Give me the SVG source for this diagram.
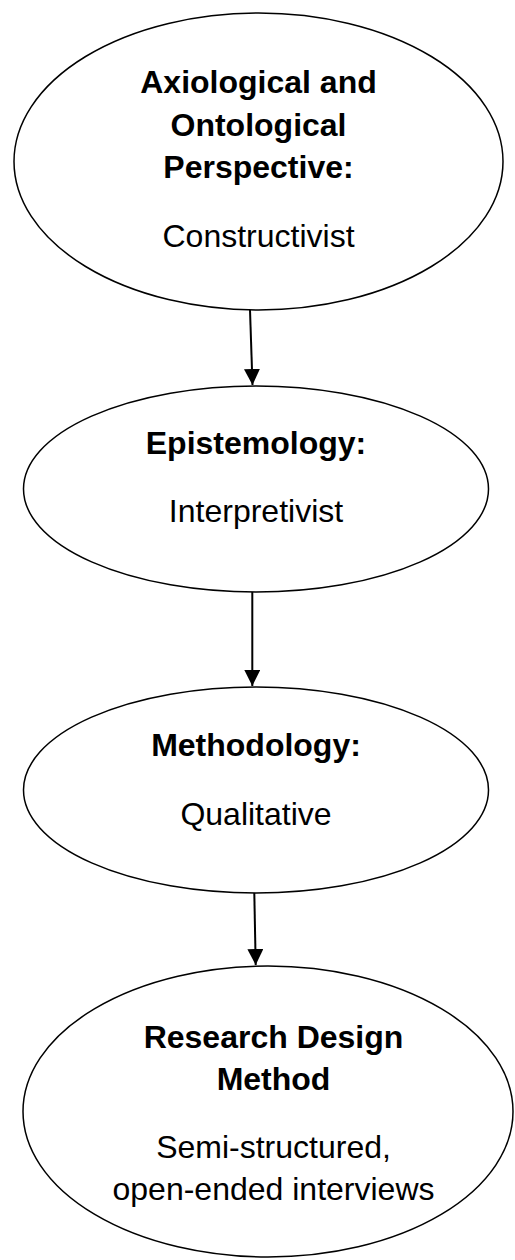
<svg xmlns="http://www.w3.org/2000/svg" width="515" height="1260" viewBox="0 0 515 1260">
<style>
  .node { fill: #ffffff; stroke: #000000; stroke-width: 1.5; }
  .t { font-family: "Liberation Sans", Arial, sans-serif; font-size: 32px; fill: #000000; text-anchor: middle; }
  .b { font-weight: bold; }
  .edge { stroke: #000000; stroke-width: 2; fill: none; marker-end: url(#arrow); }
</style>
<defs>
  <marker id="arrow" markerUnits="userSpaceOnUse" markerWidth="16" markerHeight="16" refX="16" refY="8" orient="auto">
    <path d="M0,0 L16,8 L0,16 Z" fill="#000000"/>
  </marker>
</defs>
<rect width="515" height="1260" fill="#ffffff"/>
<g id="node-axiology">
  <ellipse class="node" cx="258.5" cy="161.5" rx="244.5" ry="148.5"/>
  <text class="t b" x="258.5" y="93">Axiological and</text>
  <text class="t b" x="258.5" y="136">Ontological</text>
  <text class="t b" x="258.5" y="178">Perspective:</text>
  <text class="t" x="258.5" y="247">Constructivist</text>
</g>
<g id="node-epistemology">
  <ellipse class="node" cx="256" cy="489" rx="232.5" ry="103"/>
  <text class="t b" x="256" y="454">Epistemology:</text>
  <text class="t" x="256" y="521.5">Interpretivist</text>
</g>
<g id="node-methodology">
  <ellipse class="node" cx="256" cy="790" rx="232.5" ry="103"/>
  <text class="t b" x="256" y="756">Methodology:</text>
  <text class="t" x="256" y="825">Qualitative</text>
</g>
<g id="node-method">
  <ellipse class="node" cx="268" cy="1111.5" rx="245" ry="145.5"/>
  <text class="t b" x="273.5" y="1048">Research Design</text>
  <text class="t b" x="273.5" y="1090">Method</text>
  <text class="t" x="273.5" y="1158">Semi-structured,</text>
  <text class="t" x="273.5" y="1200">open-ended interviews</text>
</g>
<g id="connectors">
  <line class="edge" x1="250" y1="310" x2="252.5" y2="385"/>
  <line class="edge" x1="252.3" y1="592" x2="252.3" y2="686"/>
  <line class="edge" x1="254.3" y1="893" x2="255.7" y2="965"/>
</g>
</svg>
